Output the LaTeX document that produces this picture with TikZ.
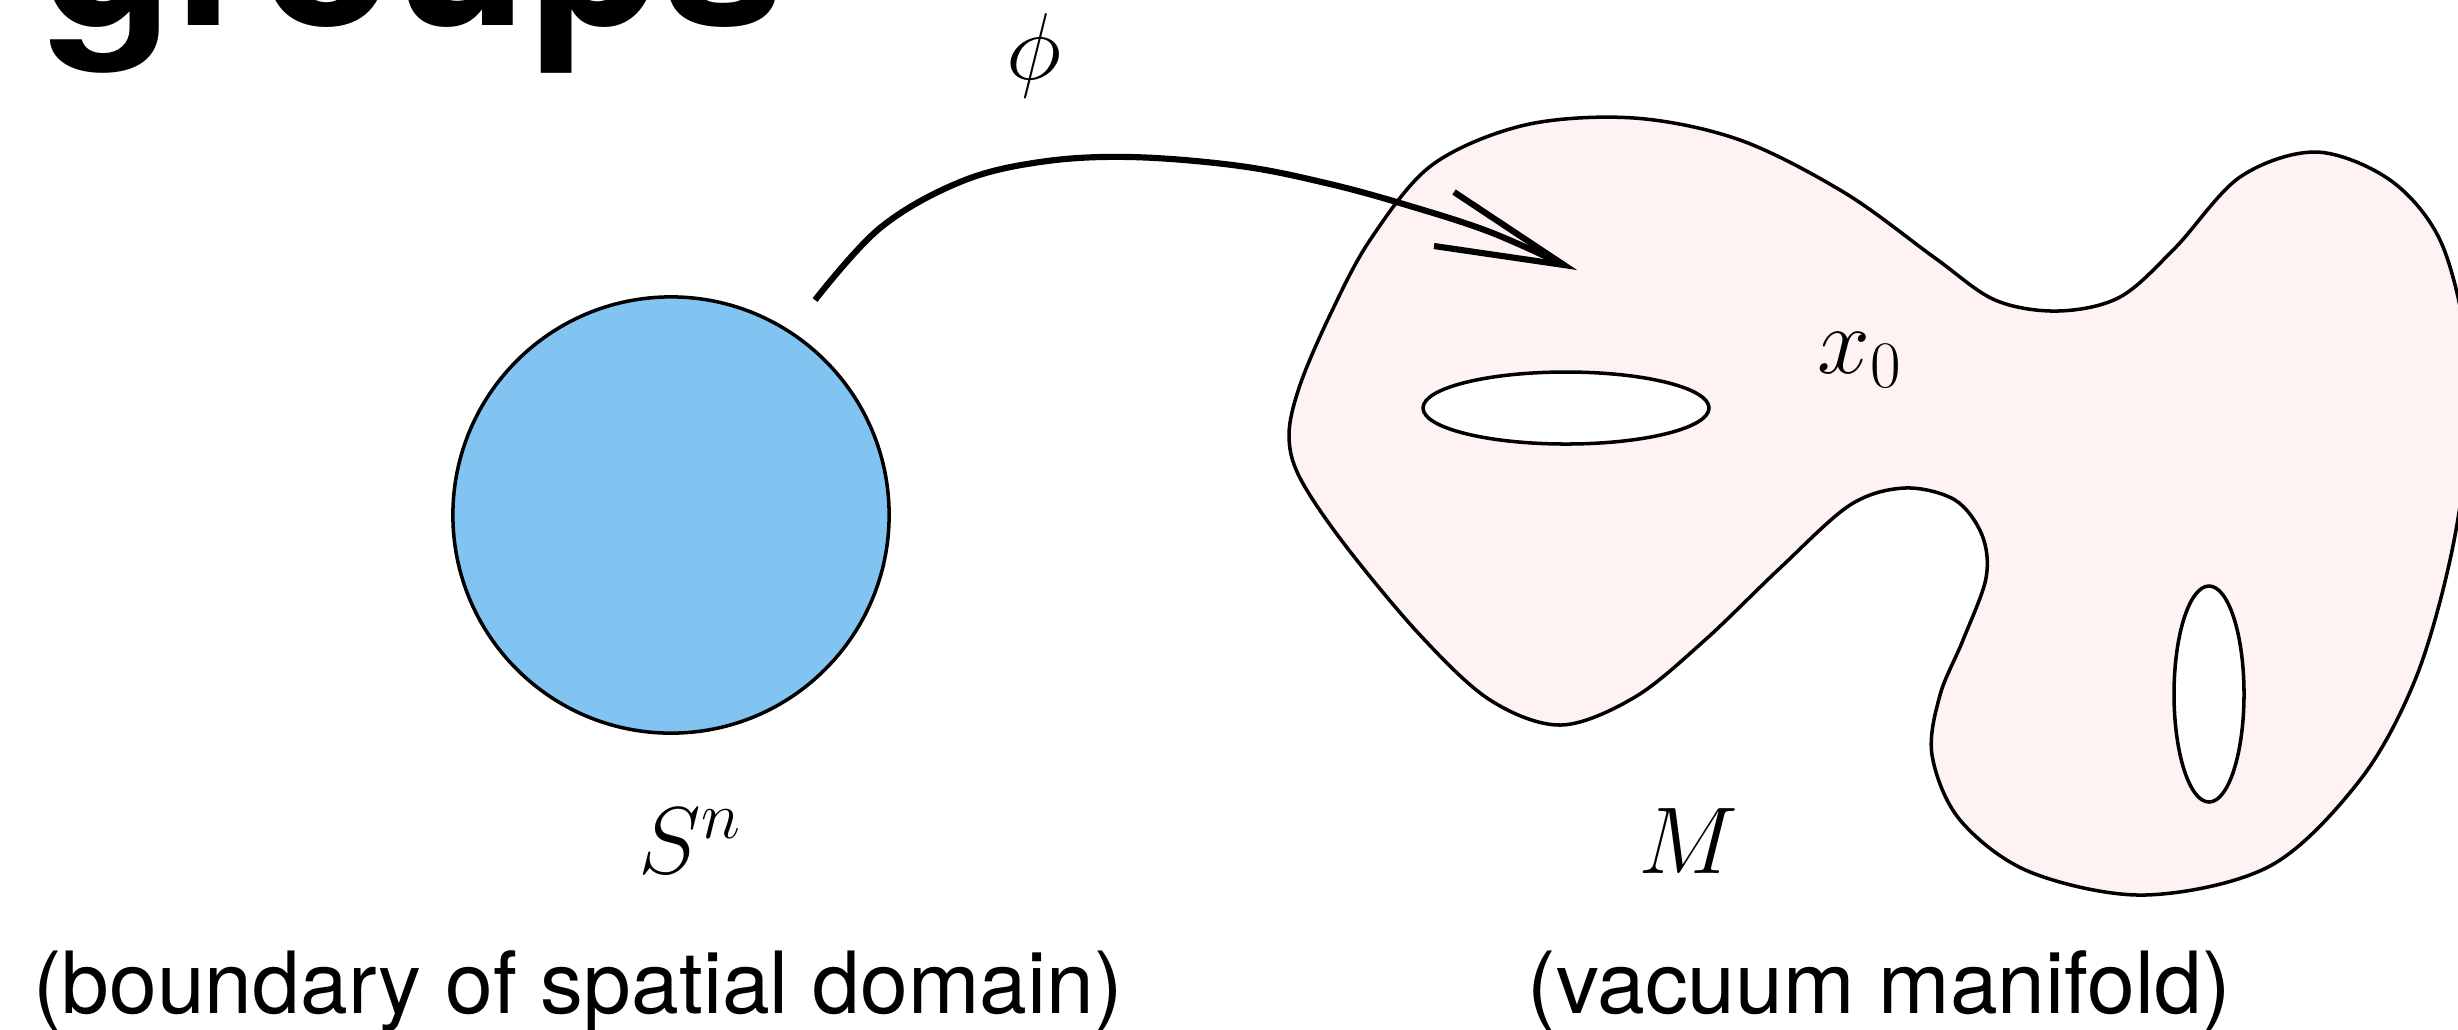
\RequirePackage{fix-cm}
\documentclass[tikz,border=0pt]{standalone}
\usepackage{fontspec}
\setsansfont{TeX Gyre Heros}
\definecolor{sphereblue}{RGB}{129,196,241}
\definecolor{manpink}{RGB}{254,242,242}
\begin{document}
\begin{tikzpicture}[x=0.01cm,y=-0.01cm,
  mathlbl/.style={inner sep=0pt, anchor=base, font=\fontsize{27}{32}\selectfont},
  caption/.style={inner sep=0pt, anchor=base, font=\sffamily\fontsize{24.4}{29}\selectfont},
  outline/.style={draw=black, line width=1.0pt},
  maparrow/.style={line width=1.75pt, line join=miter, line cap=butt}]
\useasboundingbox (0,0) rectangle (2458,1029);
\clip (0,0) rectangle (2458,1029);
\node[anchor=base west, inner sep=0pt, font=\sffamily\bfseries\fontsize{62.4}{72}\selectfont] (title) at (40,25) {groups};
% sphere
\node[circle, minimum size=4.36cm, inner sep=0pt, fill=sphereblue, outline] (sphere) at (671,515) {};
% manifold with two holes
\draw[outline, fill=manpink, even odd rule]
  plot[smooth cycle, tension=0.55] coordinates {
  (1289,435) (1300,385) (1330,315) (1370,240) (1432,165) (1525,125) (1634,118)
  (1740,140) (1845,193) (1935,258) (1995,300) (2058,311) (2120,297) (2175,248)
  (2240,177) (2316,152) (2390,180) (2440,240) (2466,340) (2468,440) (2450,560)
  (2415,680) (2360,780) (2270,866) (2145,895) (2030,872) (1960,820) (1932,755)
  (1940,695) (1963,640) (1986,578) (1982,535) (1955,500) (1905,488)
  (1850,505) (1780,568) (1705,640) (1635,697) (1561,725) (1490,700) (1420,635)
  (1345,545) (1300,478)}
  (1566,408) ellipse [x radius=143, y radius=36]
  (2209,694) ellipse [x radius=35, y radius=108];
% map arrow
\coordinate (phistart) at (815,300);
\coordinate (phitip) at (1564,265);
\draw[maparrow] plot[smooth, tension=0.6] coordinates {
  (phistart) (880,228) (960,182) (1040,162) (1130,157) (1240,166) (1330,184)
  (1410,206) (1490,232) (phitip)};
\draw[maparrow] (1454,192) -- (phitip) -- (1434,246);
% labels
\node[mathlbl] (phi) at (1034,79) {$\phi$};
\node[mathlbl] (Sn) at (690,873) {$S^n$};
\node[mathlbl] (M) at (1688,873) {$M$};
\node[mathlbl] (x0) at (1860,373) {$x_0$};
\node[caption] (cap1) at (578,1013) {(boundary of spatial domain)};
\node[caption] (cap2) at (1879,1013) {(vacuum manifold)};
\end{tikzpicture}
\end{document}
